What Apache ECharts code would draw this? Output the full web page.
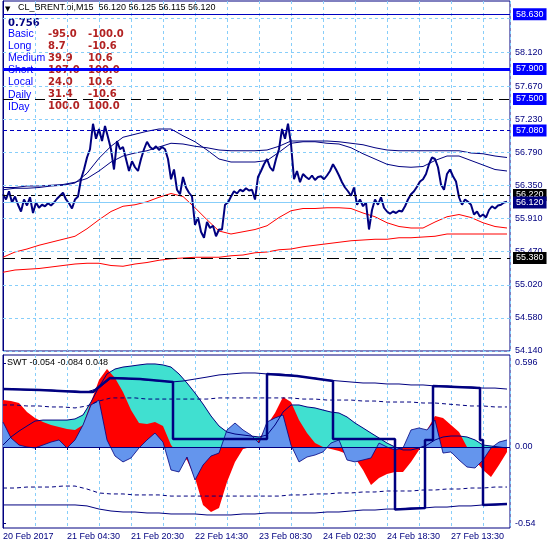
<!DOCTYPE html>
<html><head><meta charset="utf-8">
<script src="https://cdn.jsdelivr.net/npm/echarts@6/dist/echarts.min.js"></script>
<style>html,body{margin:0;padding:0;background:#fff}#c{width:550px;height:550px}</style>
</head><body><div id="c"></div>
<script>
// ---------- DATA ----------
const xLabels = ['20 Feb 2017','21 Feb 04:30','21 Feb 20:30','22 Feb 14:30','23 Feb 08:30','24 Feb 02:30','24 Feb 18:30','27 Feb 13:30'];
const barsPerLabel = 64;
const titleText = 'CL_BRENT.oi,M15  56.120 56.125 56.115 56.120';
const subTitleText = 'SWT -0.054 -0.084 0.048';
const headValue = '0.756';
const legendNames = ['Basic','Long','Medium','Short','Local','Daily','IDay'];
const legendV1 = ['-95.0','8.7','39.9','107.0','24.0','31.4','100.0'];
const legendV2 = ['-100.0','-10.6','10.6','100.0','10.6','-10.6','100.0'];

const priceTicks = [58.58,58.12,57.67,57.23,56.79,56.35,55.91,55.47,55.02,54.58,54.14];
const levelValues = [58.63,57.90,57.50,57.08,56.22,56.12,55.38];
const subTicks = [0.596,0,-0.54];
const subTickLabels = ['0.596','0.00','-0.54'];

const priceStep = 3;
const price = [56.23,56.16,56.27,56.12,56.20,56.09,56.00,56.16,56.08,56.19,
 55.98,56.12,56.05,56.09,56.07,56.11,56.08,56.12,56.17,56.21,
 56.25,56.16,56.11,56.04,56.16,56.20,56.43,56.56,56.72,56.83,
 57.17,56.97,57.10,56.94,57.14,56.99,56.83,56.56,56.94,56.83,
 56.86,56.70,56.54,56.67,56.59,56.54,56.70,56.83,56.93,56.86,
 56.83,56.87,56.82,56.86,56.83,56.70,56.43,56.56,56.29,56.23,
 56.46,56.32,56.25,56.20,55.82,55.92,55.73,55.65,55.86,55.78,
 55.81,55.67,55.76,55.76,56.09,56.12,56.20,56.27,56.24,56.29,
 56.27,56.31,56.28,56.29,56.16,56.46,56.54,56.63,56.70,56.59,
 56.54,56.70,56.83,57.10,56.97,57.17,56.90,56.43,56.54,56.39,
 56.50,56.46,56.43,56.48,56.42,56.46,56.47,56.43,56.48,56.54,
 56.63,56.56,56.48,56.39,56.32,56.27,56.21,56.32,56.09,56.16,
 56.07,56.12,55.76,56.02,56.16,56.09,56.19,56.05,56.00,55.97,
 56.00,55.98,56.01,56.00,56.07,56.16,56.23,56.27,56.33,56.40,
 56.43,56.50,56.63,56.72,56.70,56.59,56.36,56.29,56.50,56.56,
 56.47,56.40,56.19,56.09,56.16,56.13,56.09,55.96,56.00,55.93,
 55.96,55.92,56.02,56.07,56.04,56.08,56.09,56.12,56.13];

const maStep = 12;
const maFast = [56.29,56.31,56.31,56.32,56.34,56.35,56.38,56.51,56.71,56.87,
 56.99,57.03,57.07,57.10,57.10,57.01,56.93,56.82,56.70,56.66,
 56.66,56.66,56.68,56.79,56.91,56.93,56.93,56.91,56.90,56.85,
 56.77,56.70,56.63,56.60,56.59,56.60,56.68,56.74,56.74,56.68,
 56.62,56.56,56.54];
const maSlow = [56.32,56.32,56.34,56.34,56.35,56.36,56.39,56.44,56.54,56.66,
 56.74,56.78,56.81,56.86,56.91,56.90,56.87,56.85,56.82,56.81,
 56.81,56.81,56.82,56.87,56.94,56.94,56.94,56.94,56.93,56.91,
 56.89,56.85,56.82,56.81,56.81,56.81,56.81,56.81,56.81,56.78,
 56.77,56.74,56.72];
const redFast = [55.39,55.46,55.50,55.55,55.59,55.63,55.67,55.77,55.89,56.00,
 56.07,56.09,56.13,56.19,56.24,56.20,56.05,55.89,55.74,55.70,
 55.73,55.76,55.81,55.92,56.01,56.04,56.04,56.05,56.05,56.04,
 55.98,55.93,55.85,55.80,55.78,55.78,55.86,55.93,55.96,55.92,
 55.85,55.80,55.78];
const redSlow = [55.19,55.22,55.23,55.24,55.26,55.28,55.30,55.31,55.31,55.28,
 55.27,55.30,55.32,55.35,55.37,55.38,55.39,55.39,55.39,55.41,
 55.42,55.45,55.46,55.49,55.50,55.53,55.55,55.57,55.59,55.61,
 55.62,55.63,55.63,55.65,55.65,55.66,55.67,55.70,55.70,55.70,
 55.70,55.70,55.70];

const histStep = 8;
const turq = [0.014,0.071,0.113,0.149,0.184,0.191,0.191,0.191,0.191,0.199,
 0.227,0.319,0.426,0.518,0.553,0.567,0.574,0.582,0.589,0.589,
 0.582,0.567,0.518,0.454,0.383,0.305,0.220,0.149,0.106,0.092,
 0.085,0.078,0.071,0.085,0.156,0.248,0.298,0.298,0.284,0.277,
 0.262,0.248,0.241,0.213,0.170,0.135,0.099,0.064,0.028,0.000,
 -0.021,-0.021,-0.007,0.014,0.050,0.071,0.078,0.078,0.071,0.050,
 0.014,0.007,0.000,-0.007];
const redH = [0.333,0.326,0.312,0.248,0.206,0.177,0.156,0.142,0.128,0.121,
 0.156,0.319,0.475,0.553,0.489,0.390,0.262,0.170,0.163,0.177,
 0.149,0.014,-0.057,-0.092,-0.220,-0.411,-0.461,-0.433,-0.248,-0.106,
 -0.014,0.000,0.050,0.156,0.241,0.355,0.319,0.191,0.099,0.028,
 0.000,-0.014,-0.028,-0.050,-0.078,-0.163,-0.270,-0.220,-0.191,-0.177,
 -0.177,-0.106,-0.021,0.121,0.220,0.206,0.156,0.106,0.000,-0.092,
 -0.163,-0.213,-0.128,-0.035];
const blueH = [0.177,0.064,0.014,0.000,-0.007,0.014,0.035,0.050,-0.007,0.050,
 0.156,0.298,0.333,0.050,-0.064,-0.106,-0.078,-0.007,0.050,0.099,
 0.035,-0.163,-0.177,-0.071,-0.234,-0.128,-0.064,-0.043,0.121,0.170,
 0.121,0.085,0.028,0.177,0.206,0.227,0.014,-0.106,-0.071,-0.057,
 -0.035,0.028,0.050,-0.092,-0.106,-0.092,-0.078,0.028,0.000,-0.021,
 -0.007,0.121,0.135,0.121,0.191,-0.043,-0.035,-0.092,-0.142,-0.149,
 -0.092,-0.007,0.035,0.050];

const bandStep = 12;
const bandUp = [0.411,0.411,0.404,0.404,0.404,0.397,0.397,0.390,0.418,0.489,
 0.489,0.482,0.475,0.468,0.461,0.468,0.482,0.496,0.511,0.518,
 0.525,0.525,0.518,0.518,0.511,0.496,0.489,0.475,0.468,0.461,
 0.454,0.454,0.447,0.447,0.440,0.440,0.433,0.433,0.426,0.426,
 0.418,0.418,0.411];
const bandUpDash = [0.298,0.298,0.291,0.291,0.284,0.284,0.277,0.291,0.326,0.348,
 0.348,0.348,0.340,0.340,0.340,0.340,0.340,0.340,0.348,0.348,
 0.348,0.348,0.348,0.348,0.348,0.340,0.340,0.333,0.333,0.333,
 0.326,0.326,0.319,0.319,0.319,0.312,0.312,0.305,0.298,0.291,
 0.291,0.284,0.284];
const bandLowDash = [-0.291,-0.291,-0.284,-0.284,-0.284,-0.277,-0.277,-0.298,-0.326,-0.333,
 -0.333,-0.340,-0.340,-0.340,-0.348,-0.348,-0.348,-0.348,-0.348,-0.348,
 -0.348,-0.348,-0.348,-0.348,-0.340,-0.340,-0.333,-0.333,-0.326,-0.326,
 -0.319,-0.319,-0.312,-0.312,-0.312,-0.305,-0.305,-0.298,-0.298,-0.291,
 -0.291,-0.284,-0.284];
const bandLow = [-0.411,-0.411,-0.411,-0.411,-0.411,-0.411,-0.411,-0.418,-0.440,-0.454,
 -0.461,-0.461,-0.468,-0.468,-0.475,-0.475,-0.475,-0.482,-0.482,-0.482,
 -0.475,-0.475,-0.468,-0.468,-0.468,-0.468,-0.468,-0.461,-0.461,-0.454,
 -0.447,-0.447,-0.440,-0.440,-0.433,-0.433,-0.426,-0.426,-0.418,-0.418,
 -0.411,-0.411,-0.404];

const stepX = [0,37,77,90,97,107,137,170,170,264,264,294,330,330,392,392,422,422,430,430,477,477,480,480,504];
const stepV = [0.411,0.404,0.390,0.390,0.433,0.489,0.482,0.461,0.057,0.057,0.518,0.504,0.468,0.057,0.057,-0.443,-0.433,0.050,0.050,0.433,0.418,0.050,0.050,-0.411,-0.404];

// ---------- STYLES ----------
const NAVY = '#000080';
const GRIDC = '#87cefa';
const FONT = 'Liberation Sans';
const levelStyle = [
  {line:'#0000c0', w:1, t:'solid', bg:'#0000ff'},
  {line:'#0000ff', w:3, t:'solid', bg:'#0000ff'},
  {line:'#000000', w:1, t:[10,6], bg:'#0000ff'},
  {line:'#0000c0', w:1, t:[4,3], bg:'#0000ff'},
  {line:'#000000', w:1, t:[4,3], bg:'#000000'},
  {line:'#87cefa', w:1, t:'solid', bg:'#000080'},
  {line:'#000000', w:1, t:[12,6], bg:'#000000'}
];
const pts = (arr, step) => arr.map((v, i) => [i * step, v]);
const lineS = (name, xi, data, color, width, type, extra) => Object.assign({
  name, type:'line', xAxisIndex:xi, yAxisIndex:xi, data, showSymbol:false, symbol:'none',
  lineStyle:{color, width, type: type || 'solid'}, silent:true
}, extra || {});

const mainMarks = priceTicks.map(v => ({yAxis:v, lineStyle:{color:GRIDC, width:1, type:[3,3]}, label:{show:false}}))
  .concat(levelValues.map((v, i) => ({
    yAxis:v,
    lineStyle:{color:levelStyle[i].line, width:levelStyle[i].w, type:levelStyle[i].t},
    label:{show:true, position:'end', distance:3, formatter:v.toFixed(3), color:'#fff',
      backgroundColor:levelStyle[i].bg, padding:[2,3,1,3], fontSize:9, fontFamily:FONT}
  })));

const xAxisBase = (gi, showLabels) => ({
  gridIndex:gi, type:'value', min:0, max:507, interval:32,
  axisLine:{show:false},
  axisTick:{show:showLabels, length:3, lineStyle:{color:NAVY}},
  axisLabel:{show:showLabels, color:NAVY, fontSize:9, fontFamily:FONT, align:'left', margin:4,
    showMaxLabel:false, showMinLabel:true,
    formatter: v => (v % barsPerLabel === 0 && xLabels[v / barsPerLabel]) ? xLabels[v / barsPerLabel] : ''},
  splitLine:{show:true, lineStyle:{color:GRIDC, width:1, type:[3,3]}}
});

const graphics = [
  {type:'text', x:5, y:9, style:{text:'▼', font:'7px "DejaVu Sans"', fill:'#000', verticalAlign:'middle'}},
  {type:'text', x:18, y:8, style:{text:titleText, font:'9px "Liberation Sans"', fill:'#000', verticalAlign:'middle'}},
  {type:'text', x:8, y:23, style:{text:headValue, font:'bold 10px "DejaVu Sans"', fill:NAVY, verticalAlign:'middle'}},
  {type:'text', x:7, y:363, style:{text:subTitleText, font:'9px "Liberation Sans"', fill:'#000', verticalAlign:'middle'}}
];
legendNames.forEach((n, i) => {
  const y = 34 + i * 12.15;
  graphics.push({type:'text', x:8, y, style:{text:n, font:'10.5px "Liberation Sans"', fill:'#0000ff', verticalAlign:'middle'}});
  graphics.push({type:'text', x:48, y, style:{text:legendV1[i], font:'bold 10px "DejaVu Sans"', fill:'#b22222', verticalAlign:'middle'}});
  graphics.push({type:'text', x:88, y, style:{text:legendV2[i], font:'bold 10px "DejaVu Sans"', fill:'#b22222', verticalAlign:'middle'}});
});

const option = {
  animation:false,
  backgroundColor:'#fff',
  grid:[
    {left:3, right:40, top:1, height:350, show:true, borderColor:NAVY, borderWidth:1},
    {left:3, right:40, top:355, height:173, show:true, borderColor:NAVY, borderWidth:1}
  ],
  xAxis:[xAxisBase(0, false), xAxisBase(1, true)],
  yAxis:[
    {gridIndex:0, type:'value', position:'right', min:54.14, max:54.14 + 350/75, scale:true,
     axisLine:{show:true, lineStyle:{color:NAVY}},
     axisTick:{show:true, customValues:priceTicks, length:3, lineStyle:{color:NAVY}},
     axisLabel:{customValues:priceTicks, formatter:v => v.toFixed(3), color:NAVY, fontSize:9, fontFamily:FONT, margin:5},
     splitLine:{show:false}},
    {gridIndex:1, type:'value', position:'right', min:-0.5745, max:0.6525,
     axisLine:{show:true, lineStyle:{color:NAVY}},
     axisTick:{show:true, customValues:subTicks, length:3, lineStyle:{color:NAVY}},
     axisLabel:{customValues:subTicks, color:NAVY, fontSize:9, fontFamily:FONT, margin:5,
       formatter:v => { const k = subTicks.findIndex(t => Math.abs(t - v) < 1e-6); return k >= 0 ? subTickLabels[k] : ''; }},
     splitLine:{show:false}}
  ],
  series:[
    lineS('holder', 0, [[0, price[0]]], NAVY, 0, 'solid', {lineStyle:{opacity:0}, clip:false,
      markLine:{silent:true, symbol:['none','none'], animation:false, data:mainMarks}}),
    lineS('redSlow', 0, pts(redSlow, maStep), '#ff0000', 1),
    lineS('redFast', 0, pts(redFast, maStep), '#ff0000', 1),
    lineS('maSlow', 0, pts(maSlow, maStep), NAVY, 1),
    lineS('maFast', 0, pts(maFast, maStep), NAVY, 1),
    lineS('price', 0, pts(price, priceStep), NAVY, 2),

    lineS('turq', 1, pts(turq, histStep), '#40e0d0', 0, 'solid', {areaStyle:{color:'#40e0d0', opacity:1}}),
    lineS('redH', 1, pts(redH, histStep), '#ff0000', 0, 'solid', {areaStyle:{color:'#ff0000', opacity:1}}),
    lineS('blueH', 1, pts(blueH, histStep), NAVY, 0.8, 'solid', {areaStyle:{color:'#6495ed', opacity:1}}),
    lineS('signal', 1, pts(turq, histStep), NAVY, 1),
    lineS('bandUp', 1, pts(bandUp, bandStep), NAVY, 1, 'solid', {
      markLine:{silent:true, symbol:['none','none'], animation:false,
        data:[{yAxis:0, lineStyle:{color:NAVY, width:1, type:'solid'}, label:{show:false}}]}}),
    lineS('bandUpDash', 1, pts(bandUpDash, bandStep), NAVY, 1, [4,3]),
    lineS('bandLowDash', 1, pts(bandLowDash, bandStep), NAVY, 1, [4,3]),
    lineS('bandLow', 1, pts(bandLow, bandStep), NAVY, 1),
    lineS('step', 1, stepX.map((x, i) => [x, stepV[i]]), NAVY, 2.5)
  ],
  graphic:graphics
};
const chart = echarts.init(document.getElementById('c'), null, {renderer:'canvas'});
chart.setOption(option);
</script></body></html>
